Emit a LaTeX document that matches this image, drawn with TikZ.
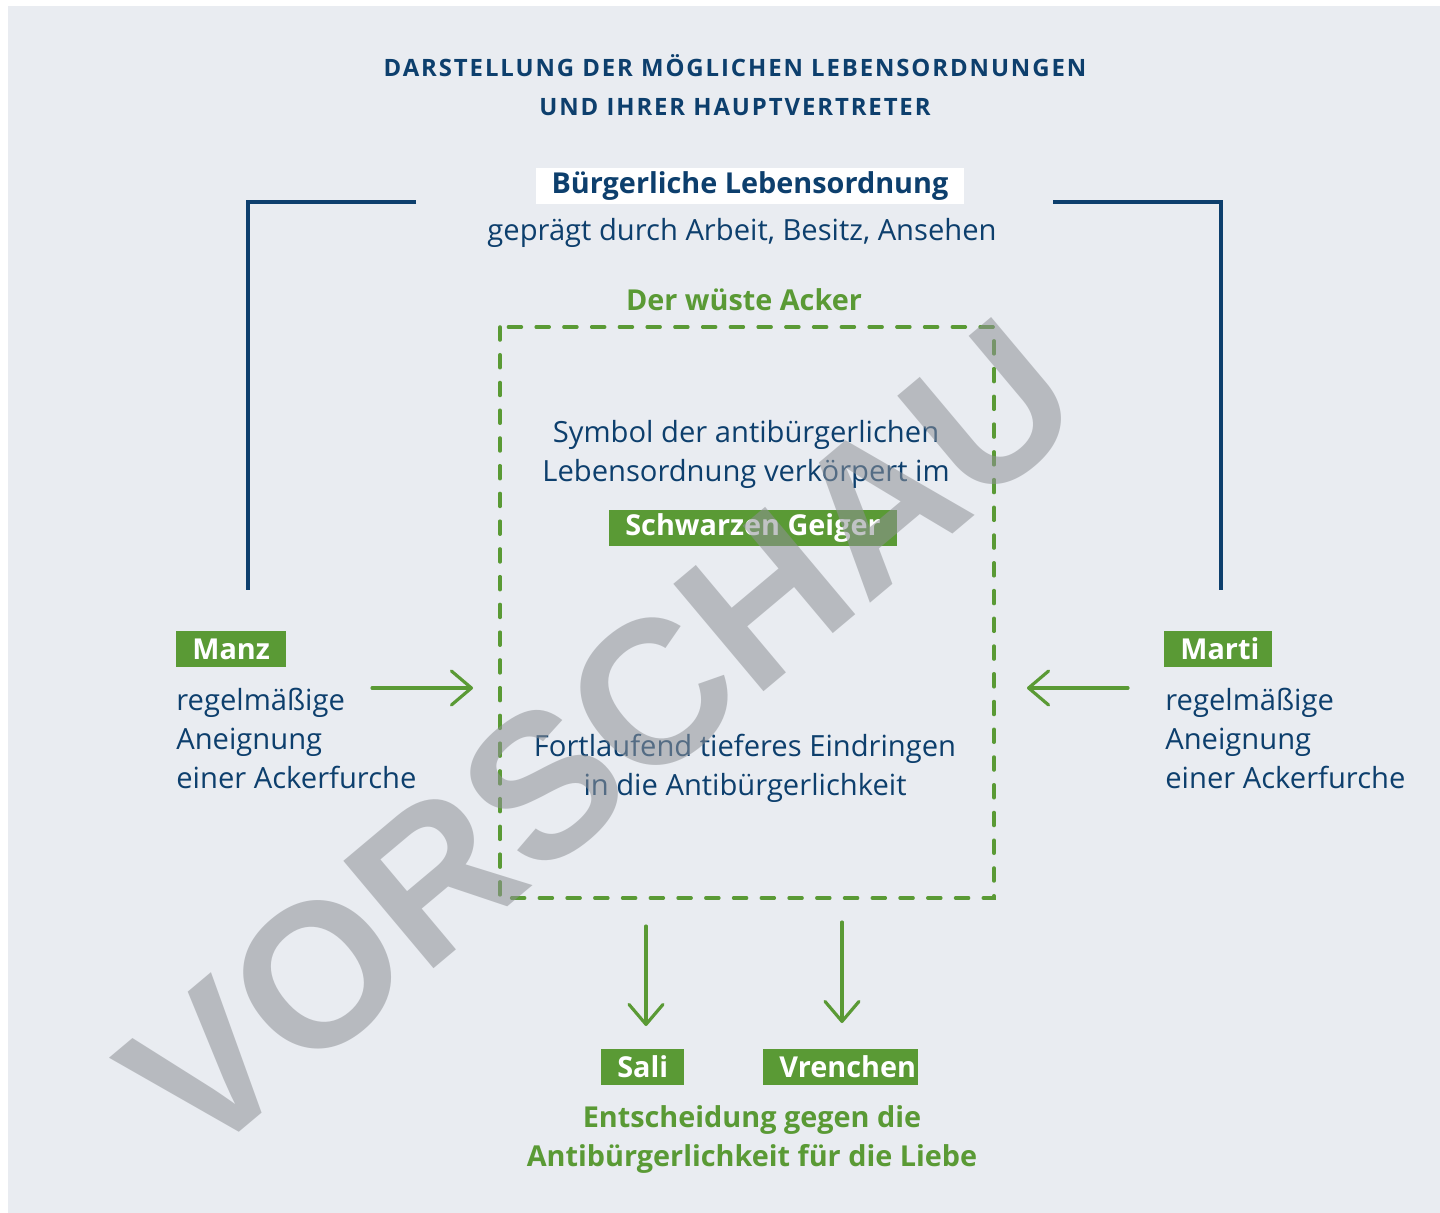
\documentclass[tikz,border=0pt]{standalone}
\usepackage{fontspec}
\setmainfont{Open Sans}
\newfontfamily\titlefont[LetterSpace=8]{Open Sans}
\newfontfamily\wmfont{Liberation Sans}
\usetikzlibrary{arrows.meta}
\definecolor{bgblue}{HTML}{E9ECF1}
\definecolor{darkblue}{HTML}{0D3F6D}
\definecolor{leafgreen}{HTML}{5A9A35}
\definecolor{wmgray}{HTML}{8F9297}

\begin{document}
\begin{tikzpicture}[x=0.02cm,y=-0.02cm,
  titletext/.style={text=darkblue,font=\titlefont\bfseries\fontsize{13.6}{22.2}\selectfont,align=center,inner sep=0pt},
  bluetext/.style={text=darkblue,font=\fontsize{16.6}{22.2}\selectfont,inner sep=0pt},
  greenhead/.style={text=leafgreen,font=\bfseries\fontsize{16.4}{22.2}\selectfont,align=center,inner sep=0pt},
  tag/.style={fill=leafgreen,text=white,font=\bfseries\fontsize{16.4}{18}\selectfont,inner xsep=0.32cm,inner ysep=0pt,minimum height=0.72cm,anchor=west},
  frame/.style={draw=darkblue,line width=2.3pt},
  arrow/.style={draw=leafgreen,line width=1.8pt,line cap=round,-{Straight Barb[length=0.4cm,width=0.68cm,round]}},
  acker/.style={draw=leafgreen,line width=2pt,line cap=round,dash pattern=on 0.26cm off 0.295cm}]
  \useasboundingbox (0,0) rectangle (1440,1213);
  \fill[white] (0,0) rectangle (1440,1213);
  \fill[bgblue] (8,6) rectangle (1440,1213);

  \node[titletext] (title) at (735,85) {DARSTELLUNG DER MÖGLICHEN LEBENSORDNUNGEN\\UND IHRER HAUPTVERTRETER};

  \node[tag,anchor=center,fill=white,text=darkblue] (buerger) at (750,186) {Bürgerliche Lebensordnung};
  \node[bluetext] (gepraegt) at (742,233) {geprägt durch Arbeit, Besitz, Ansehen};
  \coordinate (bl1) at (416,202);
  \coordinate (bl2) at (248,590);
  \coordinate (br1) at (1053,202);
  \coordinate (br2) at (1221,590);
  \draw[frame] (bl1) -| (bl2);
  \draw[frame] (br1) -| (br2);

  \node[greenhead] (acker) at (744,300) {Der wüste Acker};
  \draw[acker] (500,327) rectangle (994,898);
  \node[bluetext,align=center] (symbol) at (746,454.5) {Symbol der antibürgerlichen\\Lebensordnung verkörpert im};
  \node[tag,anchor=center] (geiger) at (753,528) {Schwarzen Geiger};
  \node[bluetext,align=center] (eindringen) at (745,768.5) {Fortlaufend tieferes Eindringen\\in die Antibürgerlichkeit};

  \node[tag] (manz) at (176,649) {Manz};
  \node[bluetext,align=left,anchor=west] (manztext) at (176,738) {regelmäßige\\Aneignung\\einer Ackerfurche};
  \node[tag] (marti) at (1164,649) {Marti\hspace*{-0.06cm}};
  \node[bluetext,align=left,anchor=west] (martitext) at (1165,738) {regelmäßige\\Aneignung\\einer Ackerfurche};

  \coordinate (manzfrom) at (372,688);
  \coordinate (manzto) at (473,688);
  \coordinate (martifrom) at (1128,688);
  \coordinate (martito) at (1027,688);
  \draw[arrow] (manzfrom) -- (manzto);
  \draw[arrow] (martifrom) -- (martito);

  \coordinate (salifrom) at (646,926);
  \coordinate (salito) at (646,1026);
  \coordinate (vrenfrom) at (842,922);
  \coordinate (vrento) at (842,1023);
  \draw[arrow] (salifrom) -- (salito);
  \draw[arrow] (vrenfrom) -- (vrento);

  \node[tag] (sali) at (601,1067) {Sali};
  \node[tag] (vrenchen) at (763,1067) {Vrenchen\hspace*{-0.28cm}};
  \node[greenhead] (entscheidung) at (752,1139.5) {Entscheidung gegen die\\Antibürgerlichkeit für die Liebe};

  \node[text=wmgray,opacity=0.55,font=\wmfont\bfseries\fontsize{116}{116}\selectfont,rotate=40,inner sep=0pt] (vorschau) at (600,738) {VORSCHAU};
\end{tikzpicture}
\end{document}
